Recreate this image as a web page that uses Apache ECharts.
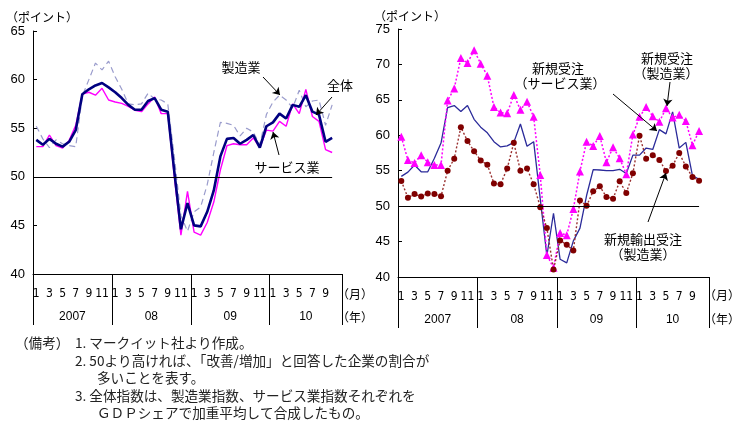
<!DOCTYPE html>
<html>
<head>
<meta charset="utf-8">
<script src="https://cdn.jsdelivr.net/npm/echarts@6.0.0/dist/echarts.min.js"></script>
<style>
  html, body { margin: 0; padding: 0; background: #fff; }
  #chart { width: 742px; height: 428px; }
</style>
</head>
<body>
<div id="chart"></div>
<script>
  // Jan 2007 .. Nov 2010 slots (data runs to Oct 2010)
  const years = ['2007', '2008', '2009', '2010'];
  const monthNames = ['1', '2', '3', '4', '5', '6', '7', '8', '9', '10', '11', '12'];
  const yearLabels = ['2007', '08', '09', '10'];
  const yearCenters = [6, 18, 30, 41.5];
  const yearBounds = [0, 12, 24, 36, 47];

  const categories = [];
  years.forEach((y, yi) => {
    monthNames.forEach((m, mi) => {
      if (yi === 3 && mi > 10) return;
      categories.push(y + '-' + m);
    });
  });

  // left: PMI
  const composite = [
    53.8, 53.3, 53.9, 53.4, 53.1, 53.6, 54.8, 58.5, 59.0, 59.4, 59.65, 59.2,
    58.7, 58.1, 57.4, 56.9, 56.9, 57.8, 58.1, 56.9, 56.7, 50.5, 44.6, 47.3,
    45.0, 44.9, 46.4, 48.6, 52.1, 53.9, 54.0, 53.4, 53.8, 54.3, 53.0, 55.2,
    55.6, 56.5, 56.0, 57.4, 57.2, 58.4, 56.7, 56.4, 53.6, 54.0
  ];
  const manufacturing = [
    55.2, 53.9, 53.0, 53.8, 53.4, 53.2, 53.1, 58.3, 60.0, 61.7, 61.0, 61.9,
    60.3, 59.0, 57.5, 57.4, 57.5, 58.6, 58.0, 57.9, 57.5, 52.0, 46.0, 44.4,
    46.4, 46.9, 49.2, 52.5, 55.6, 55.5, 55.3, 54.2, 55.0, 54.6, 53.3, 56.4,
    57.7, 58.4, 57.9, 57.1, 58.9, 57.2, 57.8, 57.9, 55.3, 57.4
  ];
  const services = [
    53.1, 53.1, 54.3, 53.2, 52.95, 53.75, 55.3, 58.5, 58.7, 58.4, 59.1, 57.9,
    57.7, 57.55, 57.25, 56.85, 56.7, 57.5, 58.2, 56.5, 56.5, 50.0, 44.0, 48.5,
    44.3, 44.0, 45.3, 47.4, 50.7, 53.2, 53.4, 53.3, 53.3, 54.0, 53.0, 54.8,
    54.7, 55.7, 55.2, 57.5, 56.5, 59.0, 56.2, 55.7, 52.8, 52.5
  ];

  // right: new orders
  const newOrdersMfg = [
    59.8, 56.5, 56.1, 57.2, 56.2, 55.8, 55.8, 64.9, 66.6, 70.9, 70.2, 72.0,
    70.1, 68.4, 64.0, 63.2, 63.1, 65.7, 63.6, 64.75, 62.6, 54.4, 43.1, 41.3,
    46.2, 45.9, 49.6, 54.9, 59.1, 58.5, 59.9, 56.2, 58.3, 56.75, 54.5, 60.1,
    62.6, 64.0, 62.7, 61.9, 63.8, 62.5, 62.9, 62.0, 58.6, 60.6
  ];
  const newOrdersSvc = [
    54.2, 54.8, 55.8, 54.85, 54.85, 56.75, 58.9, 63.9, 64.2, 63.35, 64.2, 62.25,
    61.15, 60.35, 59.1, 58.35, 58.5, 59.0, 61.6, 58.45, 59.1, 51.0, 43.0, 49.0,
    42.5, 42.0, 45.1, 46.9, 51.5, 55.15, 55.1, 55.0, 55.0, 55.2, 54.6, 57.2,
    57.2, 58.2, 58.0, 60.8, 60.2, 63.3, 58.2, 59.0, 54.3, 53.8
  ];
  const exportOrders = [
    53.55, 51.2, 51.7, 51.35, 51.8, 51.7, 51.4, 55.0, 56.7, 61.15, 59.2, 57.75,
    56.45, 55.85, 53.2, 53.1, 55.3, 58.95, 55.0, 55.3, 53.1, 49.85, 46.9, 41.05,
    45.15, 44.55, 43.75, 50.8, 50.05, 52.1, 52.8, 51.3, 51.05, 53.5, 51.85, 54.65,
    59.95, 56.7, 57.2, 56.5, 54.95, 55.7, 57.5, 55.6, 54.1, 53.6
  ];

  const JP = "'Noto Sans CJK JP', sans-serif";
  const NUM = "'Liberation Sans', Arial, sans-serif";
  const NARROW = "'Liberation Sans Narrow', 'DejaVu Sans Condensed', 'Liberation Sans', sans-serif";

  const monthAxis = (gridIndex) => ({
    type: 'category',
    gridIndex,
    data: categories,
    boundaryGap: true,
    axisLine: { lineStyle: { color: '#000', width: 1 } },
    axisTick: { show: false },
    axisLabel: {
      interval: (i) => i < 46 && (i % 12) % 2 === 0,
      formatter: (v) => v.split('-')[1],
      margin: 14,
      color: '#000',
      fontSize: 12,
      fontFamily: NARROW
    },
    splitLine: { show: false }
  });

  const yearAxis = (gridIndex) => ({
    type: 'value',
    gridIndex,
    position: 'bottom',
    min: 0,
    max: 47,
    axisLine: { show: false },
    axisTick: {
      show: true,
      customValues: yearBounds,
      length: 51,
      lineStyle: { color: '#000', width: 1 }
    },
    axisLabel: {
      customValues: yearCenters,
      formatter: (v) => yearLabels[yearCenters.indexOf(v)],
      margin: 37,
      color: '#000',
      fontSize: 12,
      fontFamily: NUM
    },
    splitLine: { show: false }
  });

  const valueAxis = (gridIndex, min, max) => ({
    type: 'value',
    gridIndex,
    min,
    max,
    interval: 5,
    axisLine: { show: true, lineStyle: { color: '#000', width: 1 } },
    axisTick: { show: true, inside: true, length: 4, lineStyle: { color: '#000' } },
    axisLabel: { margin: 8, color: '#000', fontSize: 13, fontFamily: NUM },
    splitLine: { show: false }
  });

  const arrow = (x1, y1, x2, y2) => [
    { x: x1, y: y1, symbol: 'none' },
    { x: x2, y: y2, symbol: 'arrow', symbolSize: 7 }
  ];

  const baseLine = (i0, i1) => [
    { coord: [categories[i0], 50], symbol: 'none' },
    { coord: [categories[i1], 50], symbol: 'none' }
  ];

  const markLines = (items) => ({
    silent: true,
    animation: false,
    symbol: ['none', 'arrow'],
    label: { show: false },
    lineStyle: { color: '#000', width: 1, type: 'solid' },
    emphasis: { disabled: true },
    data: items
  });

  const txt = (x, y, text, opts) => ({
    type: 'text',
    x,
    y,
    style: Object.assign({
      text,
      fill: '#000',
      font: '13px ' + JP,
      textAlign: 'center',
      textVerticalAlign: 'middle'
    }, opts || {})
  });

  const notes = [
    ['（備考）', 15, 343],
    ['1. マークイット社より作成。', 75, 343],
    ['2. 50より高ければ、「改善/増加」と回答した企業の割合が', 75, 361],
    ['多いことを表す。', 97, 378],
    ['3. 全体指数は、製造業指数、サービス業指数それぞれを', 75, 396],
    ['ＧＤＰシェアで加重平均して合成したもの。', 97, 413]
  ];

  const chart = echarts.init(document.getElementById('chart'));

  chart.setOption({
    backgroundColor: '#fff',
    animation: false,
    grid: [
      { left: 33, top: 31, width: 309, height: 243 },
      { left: 398, top: 29, width: 311, height: 248 }
    ],
    xAxis: [monthAxis(0), yearAxis(0), monthAxis(1), yearAxis(1)],
    yAxis: [valueAxis(0, 40, 65), valueAxis(1, 40, 75)],
    series: [
      {
        name: '製造業',
        type: 'line',
        xAxisIndex: 0,
        yAxisIndex: 0,
        data: manufacturing,
        showSymbol: false,
        lineStyle: { color: '#9a9ccc', width: 1.2, type: [6, 4] },
        itemStyle: { color: '#9a9ccc' }
      },
      {
        name: 'サービス業',
        type: 'line',
        xAxisIndex: 0,
        yAxisIndex: 0,
        data: services,
        showSymbol: false,
        lineStyle: { color: '#ff00ff', width: 1.4 },
        itemStyle: { color: '#ff00ff' }
      },
      {
        name: '全体',
        type: 'line',
        xAxisIndex: 0,
        yAxisIndex: 0,
        data: composite,
        showSymbol: false,
        lineStyle: { color: '#000080', width: 2.6 },
        itemStyle: { color: '#000080' },
        markLine: markLines([
          baseLine(0, 45),
          arrow(263, 77, 280, 95),
          arrow(332, 97, 316, 115),
          arrow(279, 155, 273, 132)
        ])
      },
      {
        name: '新規受注（サービス業）',
        type: 'line',
        xAxisIndex: 2,
        yAxisIndex: 1,
        data: newOrdersSvc,
        showSymbol: false,
        lineStyle: { color: '#2b2b9a', width: 1.3 },
        itemStyle: { color: '#2b2b9a' },
        markLine: markLines([
          baseLine(0, 45),
          arrow(613, 94, 657, 131),
          arrow(670, 82, 667, 106),
          arrow(648, 222, 666, 173)
        ])
      },
      {
        name: '新規受注（製造業）',
        type: 'line',
        xAxisIndex: 2,
        yAxisIndex: 1,
        data: newOrdersMfg,
        symbol: 'triangle',
        symbolSize: 8,
        showAllSymbol: true,
        lineStyle: { color: '#ff00ff', width: 1.5, type: [2, 2] },
        itemStyle: { color: '#ff00ff' }
      },
      {
        name: '新規輸出受注（製造業）',
        type: 'line',
        xAxisIndex: 2,
        yAxisIndex: 1,
        data: exportOrders,
        symbol: 'circle',
        symbolSize: 6,
        showAllSymbol: true,
        lineStyle: { color: '#9a3030', width: 1.4, type: [2, 2] },
        itemStyle: { color: '#800000' }
      }
    ],
    graphic: [
      txt(42, 17, '（ポイント）', { font: '12px ' + JP }),
      txt(410, 16, '（ポイント）', { font: '12px ' + JP }),
      txt(241, 67, '製造業'),
      txt(340, 85, '全体'),
      txt(287, 167, 'サービス業'),
      txt(558, 68, '新規受注'),
      txt(560, 83, '（サービス業）'),
      txt(667, 58, '新規受注'),
      txt(666, 73, '（製造業）'),
      txt(643, 239, '新規輸出受注'),
      txt(643, 254, '（製造業）'),
      txt(355, 294, '（月）', { font: '12px ' + JP }),
      txt(355, 317, '（年）', { font: '12px ' + JP }),
      txt(722, 295, '（月）', { font: '12px ' + JP }),
      txt(722, 319, '（年）', { font: '12px ' + JP })
    ].concat(notes.map(([t, x, y]) => txt(x, y, t, { textAlign: 'left', fill: '#222', font: '13.6px ' + JP })))
  });
</script>
</body>
</html>
